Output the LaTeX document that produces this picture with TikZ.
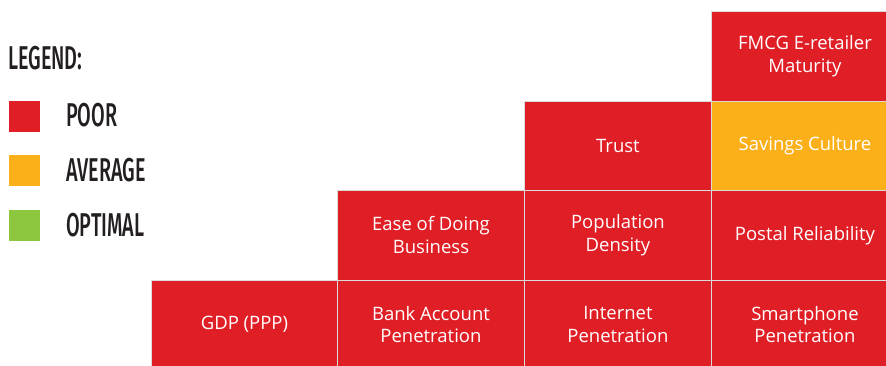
\documentclass[tikz,border=0pt]{standalone}
\usepackage{fontspec}
\setmainfont{Open Sans}
\newfontfamily\legfont[FakeStretch=0.6]{Fira Sans Medium}
\definecolor{poor}{HTML}{E01E26}
\definecolor{avg}{HTML}{FBB019}
\definecolor{opt}{HTML}{8DC63F}
\definecolor{gridline}{HTML}{DADADA}
\definecolor{legtext}{HTML}{231F20}
\tikzset{
  cell/.style={anchor=north west, minimum width=187pt, minimum height=89.5pt,
    draw=gridline, line width=0.9pt, text=white, align=center, inner sep=0pt,
    font=\fontsize{18.5}{22.5}\selectfont},
  poorcell/.style={cell, fill=poor},
  avgcell/.style={cell, fill=avg},
  legbox/.style={anchor=north west, minimum width=31pt, minimum height=31pt, inner sep=0pt},
  legtxt/.style={anchor=west, inner sep=0pt, text=legtext, font=\legfont\fontsize{33}{33}\selectfont}
}
\begin{document}
\begin{tikzpicture}[x=1pt,y=1pt]
\useasboundingbox (0,0) rectangle (886,-365);
\clip (0,0) rectangle (886,-365);
% legend
\node[legtxt] (leg) at (8,-58) {LEGEND:};
\node[legbox, fill=poor] (sq1) at (9,-101) {};
\node[legbox, fill=avg] (sq2) at (9,-155) {};
\node[legbox, fill=opt] (sq3) at (9,-210) {};
\node[legtxt] (l1) at (66,-115.5) {POOR};
\node[legtxt] (l2) at (66,-170) {AVERAGE};
\node[legtxt] (l3) at (66,-225) {OPTIMAL};
% grid
\node[poorcell] (fmcg) at (711,-11) {FMCG E-retailer\\Maturity};
\node[poorcell] (trust) at (524,-100.5) {Trust};
\node[avgcell] (sav) at (711,-100.5) {Savings Culture};
\node[poorcell] (ease) at (337,-190) {Ease of Doing\\Business};
\node[poorcell] (pop) at (524,-190) {Population\\Density};
\node[poorcell] (postal) at (711,-190) {Postal Reliability};
\node[poorcell] (gdp) at (150.5,-279.5) {GDP (PPP)};
\node[poorcell] (bank) at (337,-279.5) {Bank Account\\Penetration};
\node[poorcell] (inet) at (524,-279.5) {Internet\\Penetration};
\node[poorcell] (smart) at (711,-279.5) {Smartphone\\Penetration};
\end{tikzpicture}
\end{document}
